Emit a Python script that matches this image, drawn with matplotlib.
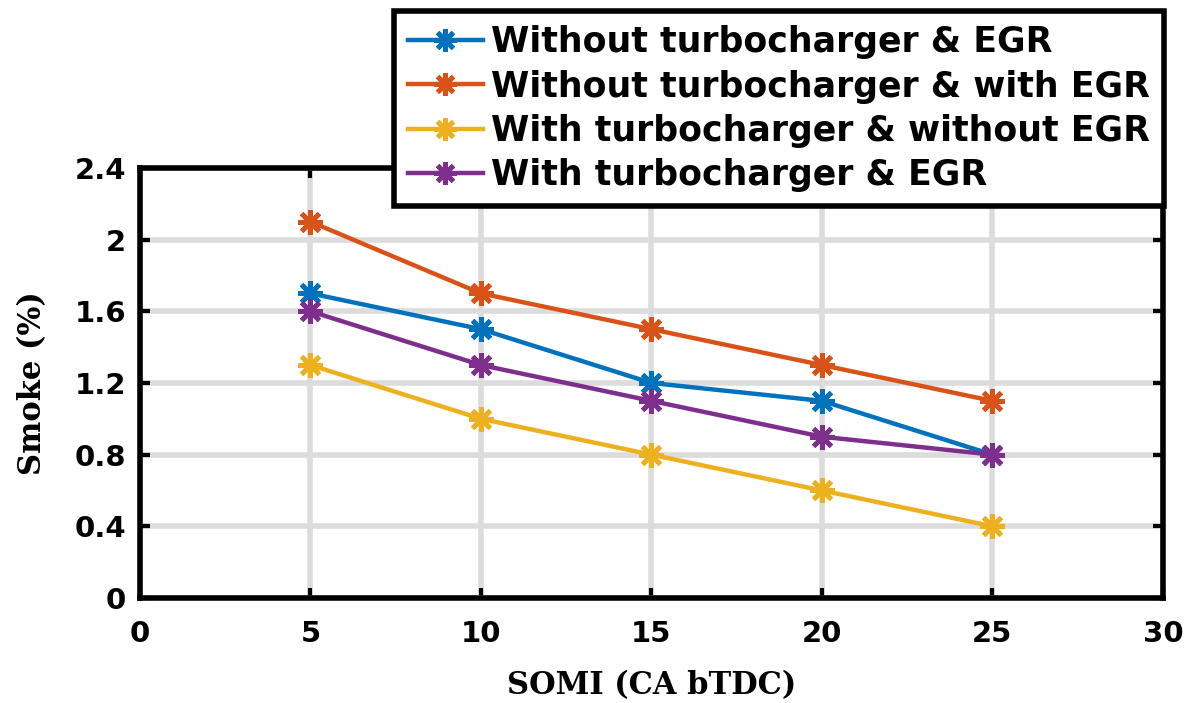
import matplotlib
matplotlib.use("Agg")
import matplotlib.pyplot as plt

# SOMI (CA bTDC) vs smoke (%)
somi = [5, 10, 15, 20, 25]
smoke_no_turbo_no_egr = [1.7, 1.5, 1.2, 1.1, 0.8]
smoke_no_turbo_egr = [2.1, 1.7, 1.5, 1.3, 1.1]
smoke_turbo_no_egr = [1.3, 1.0, 0.8, 0.6, 0.4]
smoke_turbo_egr = [1.6, 1.3, 1.1, 0.9, 0.8]

labels = ['Without turbocharger & EGR',
          'Without turbocharger & with EGR',
          'With turbocharger & without EGR',
          'With turbocharger & EGR']
colors = ['#0072BD', '#D95319', '#EDB120', '#7E2F8E']

x_ticks = [0, 5, 10, 15, 20, 25, 30]
y_ticks = [0, 0.4, 0.8, 1.2, 1.6, 2.0, 2.4]
y_ticklabels = ['0', '0.4', '0.8', '1.2', '1.6', '2', '2.4']

fig = plt.figure(figsize=(11.89, 7.03), dpi=100)
ax = fig.add_axes([0.1177, 0.1494, 0.8603, 0.6117])

series = [smoke_no_turbo_no_egr, smoke_no_turbo_egr, smoke_turbo_no_egr, smoke_turbo_egr]
lines = []
for vals, lab, col in zip(series, labels, colors):
    ln, = ax.plot(somi, vals, color=col, lw=3.2, marker=(8, 2, 0), markersize=18,
                  markeredgewidth=3.5, markeredgecolor=col, label=lab, zorder=3)
    lines.append(ln)

ax.set_xlim(0, 30)
ax.set_ylim(0, 2.4)
ax.set_xticks(x_ticks)
ax.set_yticks(y_ticks)
ax.set_yticklabels(y_ticklabels)
ax.grid(True, color='#dcdcdc', lw=4)
ax.set_axisbelow(True)

for sp in ax.spines.values():
    sp.set_linewidth(4)
ax.tick_params(direction='in', length=7, width=3, top=True, right=True)
ax.tick_params(axis='x', pad=16)
ax.tick_params(axis='y', pad=10)
for t in ax.get_xticklabels() + ax.get_yticklabels():
    t.set_fontfamily('DejaVu Sans')
    t.set_fontweight('bold')
    t.set_fontsize(21)

ax.set_xlabel('SOMI (CA bTDC)', fontfamily='DejaVu Serif', fontweight='bold',
              fontsize=22, labelpad=16)
ax.set_ylabel('Smoke (%)', fontfamily='DejaVu Serif', fontweight='bold',
              fontsize=22, labelpad=19)

leg = fig.legend(handles=lines, loc='upper right', bbox_to_anchor=(0.979, 0.984),
                 prop={'family': 'DejaVu Sans', 'weight': 'bold', 'size': 25},
                 frameon=True, fancybox=False, edgecolor='black', framealpha=1,
                 handlelength=2.15, handletextpad=0.25, borderpad=0.4,
                 labelspacing=0.3, borderaxespad=0)
leg.get_frame().set_linewidth(4)
for h in leg.legend_handles:
    h.set_markersize(16)

fig.savefig('out.png', dpi=100)
